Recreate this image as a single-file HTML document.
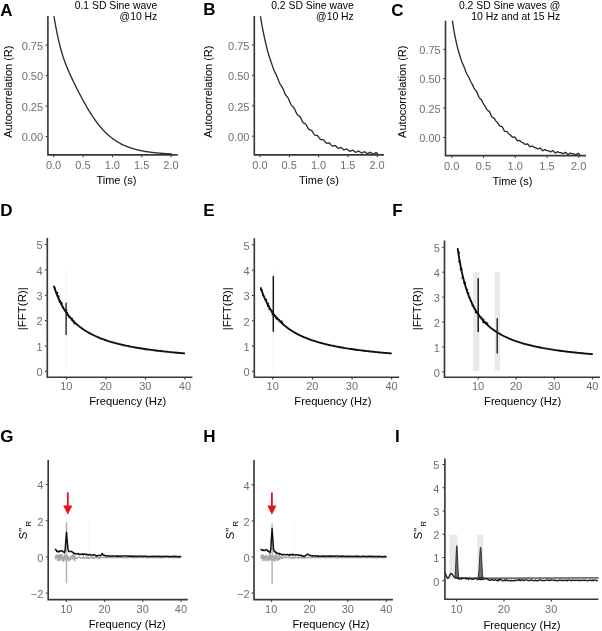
<!DOCTYPE html>
<html><head><meta charset="utf-8"><style>
html,body{margin:0;padding:0;background:#fff;width:602px;height:631px;overflow:hidden}
svg{display:block;font-family:"Liberation Sans", sans-serif;will-change:transform}
</style></head><body>
<svg width="602" height="631" viewBox="0 0 602 631">
<rect width="602" height="631" fill="#fff"/>
<text x="0.3" y="15.8" font-size="17" fill="#000" text-anchor="start" font-weight="bold">A</text>
<text x="203.3" y="15.4" font-size="17" fill="#000" text-anchor="start" font-weight="bold">B</text>
<text x="391.3" y="15.8" font-size="17" fill="#000" text-anchor="start" font-weight="bold">C</text>
<text x="0.3" y="215.8" font-size="17" fill="#000" text-anchor="start" font-weight="bold">D</text>
<text x="203.3" y="216" font-size="17" fill="#000" text-anchor="start" font-weight="bold">E</text>
<text x="392.3" y="215.7" font-size="17" fill="#000" text-anchor="start" font-weight="bold">F</text>
<text x="0.3" y="442.4" font-size="17" fill="#000" text-anchor="start" font-weight="bold">G</text>
<text x="203.3" y="442" font-size="17" fill="#000" text-anchor="start" font-weight="bold">H</text>
<text x="395.1" y="441.9" font-size="17" fill="#000" text-anchor="start" font-weight="bold">I</text>
<text x="157.3" y="8.7" font-size="10.4" fill="#000" text-anchor="end" font-weight="normal">0.1 SD Sine wave</text>
<text x="157.3" y="20.2" font-size="10.4" fill="#000" text-anchor="end" font-weight="normal">@10 Hz</text>
<text x="353.8" y="8.7" font-size="10.4" fill="#000" text-anchor="end" font-weight="normal">0.2 SD Sine wave</text>
<text x="353.8" y="20.2" font-size="10.4" fill="#000" text-anchor="end" font-weight="normal">@10 Hz</text>
<text x="560.2" y="8.7" font-size="10.4" fill="#000" text-anchor="end" font-weight="normal">0.2 SD Sine waves @</text>
<text x="560.2" y="20.2" font-size="10.4" fill="#000" text-anchor="end" font-weight="normal">10 Hz and at 15 Hz</text>
<path d="M47.9 16 V154.9 H177.7" fill="none" stroke="#383838" stroke-width="1.65"/>
<rect x="45.6" y="44.6" width="1.5" height="1" fill="#1a1a1a"/>
<text x="43.1" y="49.9" font-size="11" fill="#6f6f6f" text-anchor="end" font-weight="normal">0.75</text>
<rect x="45.6" y="75.1" width="1.5" height="1" fill="#1a1a1a"/>
<text x="43.1" y="80.4" font-size="11" fill="#6f6f6f" text-anchor="end" font-weight="normal">0.50</text>
<rect x="45.6" y="105.6" width="1.5" height="1" fill="#1a1a1a"/>
<text x="43.1" y="110.9" font-size="11" fill="#6f6f6f" text-anchor="end" font-weight="normal">0.25</text>
<rect x="45.6" y="136.1" width="1.5" height="1" fill="#1a1a1a"/>
<text x="43.1" y="141.4" font-size="11" fill="#6f6f6f" text-anchor="end" font-weight="normal">0.00</text>
<rect x="53.2" y="155.7" width="1" height="1.5" fill="#1a1a1a"/>
<text x="53.6" y="169.1" font-size="11" fill="#6f6f6f" text-anchor="middle" font-weight="normal">0.0</text>
<rect x="82.55" y="155.7" width="1" height="1.5" fill="#1a1a1a"/>
<text x="82.95" y="169.1" font-size="11" fill="#6f6f6f" text-anchor="middle" font-weight="normal">0.5</text>
<rect x="111.9" y="155.7" width="1" height="1.5" fill="#1a1a1a"/>
<text x="112.3" y="169.1" font-size="11" fill="#6f6f6f" text-anchor="middle" font-weight="normal">1.0</text>
<rect x="141.25" y="155.7" width="1" height="1.5" fill="#1a1a1a"/>
<text x="141.65" y="169.1" font-size="11" fill="#6f6f6f" text-anchor="middle" font-weight="normal">1.5</text>
<rect x="170.6" y="155.7" width="1" height="1.5" fill="#1a1a1a"/>
<text x="171" y="169.1" font-size="11" fill="#6f6f6f" text-anchor="middle" font-weight="normal">2.0</text>
<text x="116.4" y="184.2" font-size="11" fill="#000" text-anchor="middle" font-weight="normal">Time (s)</text>
<text x="12.2" y="91.7" font-size="11" fill="#000" text-anchor="middle" font-weight="normal" transform="rotate(-90 12.2 91.7)">Autocorrelation (R)</text>
<path d="M254.3 16 V154.9 H383.9" fill="none" stroke="#383838" stroke-width="1.65"/>
<rect x="252" y="44.4" width="1.5" height="1" fill="#1a1a1a"/>
<text x="249.5" y="49.7" font-size="11" fill="#6f6f6f" text-anchor="end" font-weight="normal">0.75</text>
<rect x="252" y="74.83" width="1.5" height="1" fill="#1a1a1a"/>
<text x="249.5" y="80.13" font-size="11" fill="#6f6f6f" text-anchor="end" font-weight="normal">0.50</text>
<rect x="252" y="105.27" width="1.5" height="1" fill="#1a1a1a"/>
<text x="249.5" y="110.57" font-size="11" fill="#6f6f6f" text-anchor="end" font-weight="normal">0.25</text>
<rect x="252" y="135.7" width="1.5" height="1" fill="#1a1a1a"/>
<text x="249.5" y="141" font-size="11" fill="#6f6f6f" text-anchor="end" font-weight="normal">0.00</text>
<rect x="259.6" y="155.7" width="1" height="1.5" fill="#1a1a1a"/>
<text x="260" y="169.1" font-size="11" fill="#6f6f6f" text-anchor="middle" font-weight="normal">0.0</text>
<rect x="288.88" y="155.7" width="1" height="1.5" fill="#1a1a1a"/>
<text x="289.27" y="169.1" font-size="11" fill="#6f6f6f" text-anchor="middle" font-weight="normal">0.5</text>
<rect x="318.15" y="155.7" width="1" height="1.5" fill="#1a1a1a"/>
<text x="318.55" y="169.1" font-size="11" fill="#6f6f6f" text-anchor="middle" font-weight="normal">1.0</text>
<rect x="347.43" y="155.7" width="1" height="1.5" fill="#1a1a1a"/>
<text x="347.82" y="169.1" font-size="11" fill="#6f6f6f" text-anchor="middle" font-weight="normal">1.5</text>
<rect x="376.7" y="155.7" width="1" height="1.5" fill="#1a1a1a"/>
<text x="377.1" y="169.1" font-size="11" fill="#6f6f6f" text-anchor="middle" font-weight="normal">2.0</text>
<text x="319" y="184.2" font-size="11" fill="#000" text-anchor="middle" font-weight="normal">Time (s)</text>
<text x="212.2" y="91.7" font-size="11" fill="#000" text-anchor="middle" font-weight="normal" transform="rotate(-90 212.2 91.7)">Autocorrelation (R)</text>
<path d="M445.5 20.8 V155.6 H586" fill="none" stroke="#383838" stroke-width="1.65"/>
<rect x="443.2" y="48.8" width="1.5" height="1" fill="#1a1a1a"/>
<text x="440.7" y="54.1" font-size="11" fill="#6f6f6f" text-anchor="end" font-weight="normal">0.75</text>
<rect x="443.2" y="78.17" width="1.5" height="1" fill="#1a1a1a"/>
<text x="440.7" y="83.47" font-size="11" fill="#6f6f6f" text-anchor="end" font-weight="normal">0.50</text>
<rect x="443.2" y="107.53" width="1.5" height="1" fill="#1a1a1a"/>
<text x="440.7" y="112.83" font-size="11" fill="#6f6f6f" text-anchor="end" font-weight="normal">0.25</text>
<rect x="443.2" y="136.9" width="1.5" height="1" fill="#1a1a1a"/>
<text x="440.7" y="142.2" font-size="11" fill="#6f6f6f" text-anchor="end" font-weight="normal">0.00</text>
<rect x="451.3" y="156.4" width="1" height="1.5" fill="#1a1a1a"/>
<text x="451.7" y="169.8" font-size="11" fill="#6f6f6f" text-anchor="middle" font-weight="normal">0.0</text>
<rect x="483.05" y="156.4" width="1" height="1.5" fill="#1a1a1a"/>
<text x="483.45" y="169.8" font-size="11" fill="#6f6f6f" text-anchor="middle" font-weight="normal">0.5</text>
<rect x="514.8" y="156.4" width="1" height="1.5" fill="#1a1a1a"/>
<text x="515.2" y="169.8" font-size="11" fill="#6f6f6f" text-anchor="middle" font-weight="normal">1.0</text>
<rect x="546.55" y="156.4" width="1" height="1.5" fill="#1a1a1a"/>
<text x="546.95" y="169.8" font-size="11" fill="#6f6f6f" text-anchor="middle" font-weight="normal">1.5</text>
<rect x="578.3" y="156.4" width="1" height="1.5" fill="#1a1a1a"/>
<text x="578.7" y="169.8" font-size="11" fill="#6f6f6f" text-anchor="middle" font-weight="normal">2.0</text>
<text x="512.5" y="184.9" font-size="11" fill="#000" text-anchor="middle" font-weight="normal">Time (s)</text>
<text x="406.3" y="91.7" font-size="11" fill="#000" text-anchor="middle" font-weight="normal" transform="rotate(-90 406.3 91.7)">Autocorrelation (R)</text>
<path d="M54 16.68 L54.5 19.59 L55 22.43 L55.5 25.2 L56 27.88 L56.5 30.47 L57 32.98 L57.5 35.38 L58 37.7 L58.5 39.93 L59 42.06 L59.5 44.12 L60 46.09 L60.5 47.98 L61 49.8 L61.5 51.54 L62 53.23 L62.5 54.85 L63 56.41 L63.5 57.92 L64 59.38 L64.5 60.8 L65 62.17 L65.5 63.51 L66 64.81 L66.5 66.08 L67 67.32 L67.5 68.53 L68 69.72 L68.5 70.89 L69 72.03 L69.5 73.16 L70 74.28 L70.5 75.38 L71 76.47 L71.5 77.54 L72 78.61 L72.5 79.66 L73 80.71 L73.5 81.74 L74 82.77 L74.5 83.8 L75 84.81 L75.5 85.82 L76 86.83 L76.5 87.83 L77 88.82 L77.5 89.81 L78 90.79 L78.5 91.76 L79 92.73 L79.5 93.7 L80 94.66 L80.5 95.61 L81 96.56 L81.5 97.5 L82 98.43 L82.5 99.36 L83 100.28 L83.5 101.2 L84 102.1 L84.5 103 L85 103.9 L85.5 104.78 L86 105.66 L86.5 106.53 L87 107.39 L87.5 108.24 L88 109.08 L88.5 109.91 L89 110.74 L89.5 111.55 L90 112.36 L90.5 113.16 L91 113.95 L91.5 114.72 L92 115.49 L92.5 116.25 L93 117 L93.5 117.74 L94 118.46 L94.5 119.18 L95 119.89 L95.5 120.59 L96 121.27 L96.5 121.95 L97 122.62 L97.5 123.28 L98 123.92 L98.5 124.56 L99 125.18 L99.5 125.8 L100 126.41 L100.5 127 L101 127.59 L101.5 128.16 L102 128.73 L102.5 129.28 L103 129.83 L103.5 130.37 L104 130.89 L104.5 131.41 L105 131.92 L105.5 132.42 L106 132.91 L106.5 133.39 L107 133.86 L107.5 134.32 L108 134.77 L108.5 135.22 L109 135.65 L109.5 136.08 L110 136.5 L110.5 136.91 L111 137.31 L111.5 137.7 L112 138.09 L112.5 138.47 L113 138.84 L113.5 139.2 L114 139.56 L114.5 139.91 L115 140.25 L115.5 140.58 L116 140.91 L116.5 141.23 L117 141.54 L117.5 141.85 L118 142.15 L118.5 142.44 L119 142.73 L119.5 143.01 L120 143.28 L120.5 143.55 L121 143.82 L121.5 144.07 L122 144.32 L122.5 144.57 L123 144.81 L123.5 145.05 L124 145.28 L124.5 145.5 L125 145.72 L125.5 145.94 L126 146.15 L126.5 146.35 L127 146.55 L127.5 146.75 L128 146.94 L128.5 147.13 L129 147.31 L129.5 147.49 L130 147.67 L130.5 147.84 L131 148 L131.5 148.17 L132 148.33 L132.5 148.48 L133 148.63 L133.5 148.78 L134 148.93 L134.5 149.07 L135 149.21 L135.5 149.34 L136 149.47 L136.5 149.6 L137 149.73 L137.5 149.85 L138 149.97 L138.5 150.09 L139 150.2 L139.5 150.32 L140 150.43 L140.5 150.53 L141 150.64 L141.5 150.74 L142 150.84 L142.5 150.93 L143 151.03 L143.5 151.12 L144 151.21 L144.5 151.3 L145 151.38 L145.5 151.47 L146 151.55 L146.5 151.63 L147 151.71 L147.5 151.78 L148 151.86 L148.5 151.93 L149 152 L149.5 152.07 L150 152.14 L150.5 152.2 L151 152.27 L151.5 152.33 L152 152.39 L152.5 152.45 L153 152.51 L153.5 152.57 L154 152.62 L154.5 152.68 L155 152.73 L155.5 152.78 L156 152.83 L156.5 152.88 L157 152.93 L157.5 152.97 L158 153.02 L158.5 153.06 L159 153.11 L159.5 153.15 L160 153.19 L160.5 153.23 L161 153.27 L161.5 153.31 L162 153.35 L162.5 153.38 L163 153.42 L163.5 153.45 L164 153.49 L164.5 153.52 L165 153.55 L165.5 153.58 L166 153.62 L166.5 153.65 L167 153.67 L167.5 153.7 L168 153.73 L168.5 153.76 L169 153.78 L169.5 153.81 L170 153.84 L170.5 153.86 L171 153.88 L171.5 153.91" fill="none" stroke="#2b2b2b" stroke-width="1.35" stroke-linejoin="round" stroke-linecap="round"/>
<path d="M260.5 16.68 L261 19.65 L261.5 22.56 L262 25.38 L262.5 28.1 L263 30.72 L263.5 33.22 L264 35.63 L264.5 37.94 L265 40.2 L265.5 42.4 L266 44.55 L266.5 46.65 L267 48.68 L267.5 50.62 L268 52.45 L268.5 54.16 L269 55.76 L269.5 57.27 L270 58.73 L270.5 60.17 L271 61.64 L271.5 63.13 L272 64.64 L272.5 66.15 L273 67.61 L273.5 68.98 L274 70.23 L274.5 71.36 L275 72.39 L275.5 73.37 L276 74.36 L276.5 75.41 L277 76.55 L277.5 77.78 L278 79.07 L278.5 80.37 L279 81.61 L279.5 82.74 L280 83.72 L280.5 84.57 L281 85.32 L281.5 86.05 L282 86.83 L282.5 87.74 L283 88.79 L283.5 89.97 L284 91.23 L284.5 92.47 L285 93.62 L285.5 94.61 L286 95.42 L286.5 96.07 L287 96.64 L287.5 97.21 L288 97.89 L288.5 98.75 L289 99.79 L289.5 100.97 L290 102.23 L290.5 103.44 L291 104.49 L291.5 105.32 L292 105.95 L292.5 106.43 L293 106.85 L293.5 107.33 L294 107.96 L294.5 108.79 L295 109.81 L295.5 110.95 L296 112.12 L296.5 113.19 L297 114.09 L297.5 114.76 L298 115.24 L298.5 115.59 L299 115.92 L299.5 116.33 L300 116.92 L300.5 117.7 L301 118.66 L301.5 119.72 L302 120.76 L302.5 121.68 L303 122.41 L303.5 122.92 L304 123.24 L304.5 123.47 L305 123.7 L305.5 124.05 L306 124.59 L306.5 125.32 L307 126.21 L307.5 127.17 L308 128.08 L308.5 128.85 L309 129.4 L309.5 129.75 L310 129.93 L310.5 130.04 L311 130.19 L311.5 130.49 L312 130.98 L312.5 131.66 L313 132.48 L313.5 133.33 L314 134.11 L314.5 134.72 L315 135.12 L315.5 135.31 L316 135.36 L316.5 135.37 L317 135.47 L317.5 135.72 L318 136.18 L318.5 136.82 L319 137.57 L319.5 138.32 L320 138.97 L320.5 139.43 L321 139.68 L321.5 139.73 L322 139.68 L322.5 139.62 L323 139.67 L323.5 139.91 L324 140.34 L324.5 140.94 L325 141.63 L325.5 142.29 L326 142.82 L326.5 143.14 L327 143.25 L327.5 143.2 L328 143.06 L328.5 142.96 L329 142.99 L329.5 143.21 L330 143.63 L330.5 144.21 L331 144.83 L331.5 145.4 L332 145.82 L332.5 146.02 L333 146.02 L333.5 145.87 L334 145.67 L334.5 145.54 L335 145.57 L335.5 145.8 L336 146.22 L336.5 146.77 L337 147.34 L337.5 147.82 L338 148.13 L338.5 148.22 L339 148.12 L339.5 147.9 L340 147.67 L340.5 147.53 L341 147.57 L341.5 147.82 L342 148.24 L342.5 148.77 L343 149.28 L343.5 149.68 L344 149.89 L344.5 149.88 L345 149.7 L345.5 149.43 L346 149.18 L346.5 149.05 L347 149.12 L347.5 149.39 L348 149.82 L348.5 150.33 L349 150.79 L349.5 151.1 L350 151.22 L350.5 151.13 L351 150.88 L351.5 150.58 L352 150.32 L352.5 150.22 L353 150.32 L353.5 150.62 L354 151.06 L354.5 151.54 L355 151.94 L355.5 152.18 L356 152.21 L356.5 152.04 L357 151.74 L357.5 151.42 L358 151.18 L358.5 151.12 L359 151.26 L359.5 151.59 L360 152.03 L360.5 152.47 L361 152.82 L361.5 152.98 L362 152.93 L362.5 152.7 L363 152.37 L363.5 152.04 L364 151.83 L364.5 151.81 L365 151.99 L365.5 152.35 L366 152.79 L366.5 153.2 L367 153.49 L367.5 153.58 L368 153.46 L368.5 153.17 L369 152.82 L369.5 152.5 L370 152.32 L370.5 152.35 L371 152.58 L371.5 152.96 L372 153.39 L372.5 153.77 L373 153.99 L373.5 154 L374 153.82 L374.5 153.49 L375 153.13 L375.5 152.83 L376 152.7 L376.5 152.78 L377 153.05 L377.5 153.45" fill="none" stroke="#2b2b2b" stroke-width="1.35" stroke-linejoin="round" stroke-linecap="round"/>
<path d="M452.5 21.16 L453 24.58 L453.5 27.8 L454 30.82 L454.5 33.63 L455 36.26 L455.5 38.72 L456 41.05 L456.5 43.28 L457 45.42 L457.5 47.47 L458 49.41 L458.5 51.23 L459 52.96 L459.5 54.62 L460 56.24 L460.5 57.83 L461 59.37 L461.5 60.84 L462 62.18 L462.5 63.4 L463 64.52 L463.5 65.61 L464 66.77 L464.5 68.03 L465 69.39 L465.5 70.78 L466 72.11 L466.5 73.28 L467 74.27 L467.5 75.12 L468 75.92 L468.5 76.77 L469 77.73 L469.5 78.8 L470 79.92 L470.5 81.01 L471 82.02 L471.5 82.95 L472 83.87 L472.5 84.84 L473 85.89 L473.5 86.98 L474 88.03 L474.5 88.93 L475 89.63 L475.5 90.17 L476 90.69 L476.5 91.35 L477 92.27 L477.5 93.46 L478 94.81 L478.5 96.14 L479 97.25 L479.5 98.04 L480 98.55 L480.5 98.93 L481 99.37 L481.5 100.01 L482 100.87 L482.5 101.88 L483 102.9 L483.5 103.81 L484 104.59 L484.5 105.31 L485 106.07 L485.5 106.96 L486 107.93 L486.5 108.9 L487 109.7 L487.5 110.25 L488 110.56 L488.5 110.79 L489 111.13 L489.5 111.76 L490 112.73 L490.5 113.95 L491 115.21 L491.5 116.28 L492 117.01 L492.5 117.4 L493 117.57 L493.5 117.75 L494 118.1 L494.5 118.69 L495 119.48 L495.5 120.32 L496 121.08 L496.5 121.71 L497 122.25 L497.5 122.78 L498 123.42 L498.5 124.17 L499 124.95 L499.5 125.63 L500 126.09 L500.5 126.29 L501 126.32 L501.5 126.39 L502 126.69 L502.5 127.33 L503 128.27 L503.5 129.35 L504 130.32 L504.5 130.99 L505 131.31 L505.5 131.35 L506 131.3 L506.5 131.37 L507 131.67 L507.5 132.2 L508 132.85 L508.5 133.46 L509 133.96 L509.5 134.33 L510 134.66 L510.5 135.07 L511 135.59 L511.5 136.2 L512 136.76 L512.5 137.13 L513 137.25 L513.5 137.15 L514 137.01 L514.5 137.02 L515 137.35 L515.5 138.02 L516 138.9 L516.5 139.78 L517 140.42 L517.5 140.72 L518 140.69 L518.5 140.5 L519 140.35 L519.5 140.4 L520 140.69 L520.5 141.16 L521 141.65 L521.5 142.06 L522 142.33 L522.5 142.53 L523 142.75 L523.5 143.09 L524 143.54 L524.5 144 L525 144.33 L525.5 144.43 L526 144.27 L526.5 144 L527 143.8 L527.5 143.87 L528 144.29 L528.5 144.99 L529 145.79 L529.5 146.43 L530 146.76 L530.5 146.74 L531 146.48 L531.5 146.18 L532 146.03 L532.5 146.13 L533 146.44 L533.5 146.84 L534 147.19 L534.5 147.42 L535 147.54 L535.5 147.65 L536 147.84 L536.5 148.17 L537 148.55 L537.5 148.86 L538 148.97 L538.5 148.83 L539 148.5 L539.5 148.17 L540 148.03 L540.5 148.23 L541 148.76 L541.5 149.47 L542 150.13 L542.5 150.52 L543 150.56 L543.5 150.31 L544 149.93 L544.5 149.64 L545 149.57 L545.5 149.74 L546 150.06 L546.5 150.38 L547 150.6 L547.5 150.69 L548 150.73 L548.5 150.83 L549 151.05 L549.5 151.36 L550 151.67 L550.5 151.82 L551 151.72 L551.5 151.4 L552 150.99 L552.5 150.7 L553 150.71 L553.5 151.07 L554 151.69 L554.5 152.35 L555 152.83 L555.5 152.96 L556 152.77 L556.5 152.37 L557 151.98 L557.5 151.77 L558 151.81 L558.5 152.05 L559 152.35 L559.5 152.58 L560 152.68 L560.5 152.69 L561 152.72 L561.5 152.85 L562 153.1 L562.5 153.39 L563 153.59 L563.5 153.56 L564 153.28 L564.5 152.85 L565 152.46 L565.5 152.31 L566 152.51 L566.5 153.01 L567 153.66 L567.5 154.2 L568 154.46 L568.5 154.36 L569 153.99 L569.5 153.55 L570 153.22 L570.5 153.14 L571 153.29 L571.5 153.56 L572 153.8 L572.5 153.93 L573 153.95 L573.5 153.93 L574 153.99 L574.5 154.18 L575 154.45 L575.5 154.68 L576 154.74 L576.5 154.53 L577 154.13 L577.5 153.67 L578 153.39 L578.5 153.42 L579 153.8 L579.5 154.4" fill="none" stroke="#2b2b2b" stroke-width="1.35" stroke-linejoin="round" stroke-linecap="round"/>
<path d="M47.3 237.9 V377.2 H192.4" fill="none" stroke="#383838" stroke-width="1.65"/>
<rect x="45" y="370.9" width="1.5" height="1" fill="#1a1a1a"/>
<text x="42.7" y="376.2" font-size="11" fill="#6f6f6f" text-anchor="end" font-weight="normal">0</text>
<rect x="45" y="345.52" width="1.5" height="1" fill="#1a1a1a"/>
<text x="42.7" y="350.82" font-size="11" fill="#6f6f6f" text-anchor="end" font-weight="normal">1</text>
<rect x="45" y="320.14" width="1.5" height="1" fill="#1a1a1a"/>
<text x="42.7" y="325.44" font-size="11" fill="#6f6f6f" text-anchor="end" font-weight="normal">2</text>
<rect x="45" y="294.76" width="1.5" height="1" fill="#1a1a1a"/>
<text x="42.7" y="300.06" font-size="11" fill="#6f6f6f" text-anchor="end" font-weight="normal">3</text>
<rect x="45" y="269.38" width="1.5" height="1" fill="#1a1a1a"/>
<text x="42.7" y="274.68" font-size="11" fill="#6f6f6f" text-anchor="end" font-weight="normal">4</text>
<rect x="45" y="244" width="1.5" height="1" fill="#1a1a1a"/>
<text x="42.7" y="249.3" font-size="11" fill="#6f6f6f" text-anchor="end" font-weight="normal">5</text>
<rect x="65.9" y="378" width="1" height="1.5" fill="#1a1a1a"/>
<text x="66.3" y="389.8" font-size="11" fill="#6f6f6f" text-anchor="middle" font-weight="normal">10</text>
<rect x="105.43" y="378" width="1" height="1.5" fill="#1a1a1a"/>
<text x="105.83" y="389.8" font-size="11" fill="#6f6f6f" text-anchor="middle" font-weight="normal">20</text>
<rect x="144.97" y="378" width="1" height="1.5" fill="#1a1a1a"/>
<text x="145.37" y="389.8" font-size="11" fill="#6f6f6f" text-anchor="middle" font-weight="normal">30</text>
<rect x="184.5" y="378" width="1" height="1.5" fill="#1a1a1a"/>
<text x="184.9" y="389.8" font-size="11" fill="#6f6f6f" text-anchor="middle" font-weight="normal">40</text>
<text x="127.7" y="405.1" font-size="11.2" fill="#000" text-anchor="middle" font-weight="normal">Frequency (Hz)</text>
<text x="26.4" y="308.7" font-size="11.5" fill="#000" text-anchor="middle" font-weight="normal" transform="rotate(-90 26.4 308.7)">|FFT(R)|</text>
<path d="M254.3 238.2 V377.2 H399.2" fill="none" stroke="#383838" stroke-width="1.65"/>
<rect x="252" y="370.9" width="1.5" height="1" fill="#1a1a1a"/>
<text x="249.7" y="376.2" font-size="11" fill="#6f6f6f" text-anchor="end" font-weight="normal">0</text>
<rect x="252" y="345.6" width="1.5" height="1" fill="#1a1a1a"/>
<text x="249.7" y="350.9" font-size="11" fill="#6f6f6f" text-anchor="end" font-weight="normal">1</text>
<rect x="252" y="320.3" width="1.5" height="1" fill="#1a1a1a"/>
<text x="249.7" y="325.6" font-size="11" fill="#6f6f6f" text-anchor="end" font-weight="normal">2</text>
<rect x="252" y="295" width="1.5" height="1" fill="#1a1a1a"/>
<text x="249.7" y="300.3" font-size="11" fill="#6f6f6f" text-anchor="end" font-weight="normal">3</text>
<rect x="252" y="269.7" width="1.5" height="1" fill="#1a1a1a"/>
<text x="249.7" y="275" font-size="11" fill="#6f6f6f" text-anchor="end" font-weight="normal">4</text>
<rect x="252" y="244.4" width="1.5" height="1" fill="#1a1a1a"/>
<text x="249.7" y="249.7" font-size="11" fill="#6f6f6f" text-anchor="end" font-weight="normal">5</text>
<rect x="272.3" y="378" width="1" height="1.5" fill="#1a1a1a"/>
<text x="272.7" y="389.8" font-size="11" fill="#6f6f6f" text-anchor="middle" font-weight="normal">10</text>
<rect x="311.93" y="378" width="1" height="1.5" fill="#1a1a1a"/>
<text x="312.33" y="389.8" font-size="11" fill="#6f6f6f" text-anchor="middle" font-weight="normal">20</text>
<rect x="351.57" y="378" width="1" height="1.5" fill="#1a1a1a"/>
<text x="351.97" y="389.8" font-size="11" fill="#6f6f6f" text-anchor="middle" font-weight="normal">30</text>
<rect x="391.2" y="378" width="1" height="1.5" fill="#1a1a1a"/>
<text x="391.6" y="389.8" font-size="11" fill="#6f6f6f" text-anchor="middle" font-weight="normal">40</text>
<text x="332.9" y="405.1" font-size="11.2" fill="#000" text-anchor="middle" font-weight="normal">Frequency (Hz)</text>
<text x="231.4" y="308.7" font-size="11.5" fill="#000" text-anchor="middle" font-weight="normal" transform="rotate(-90 231.4 308.7)">|FFT(R)|</text>
<path d="M444.5 240.4 V377.2 H600" fill="none" stroke="#383838" stroke-width="1.65"/>
<rect x="442.2" y="371.3" width="1.5" height="1" fill="#1a1a1a"/>
<text x="439.9" y="376.6" font-size="11" fill="#6f6f6f" text-anchor="end" font-weight="normal">0</text>
<rect x="442.2" y="346.4" width="1.5" height="1" fill="#1a1a1a"/>
<text x="439.9" y="351.7" font-size="11" fill="#6f6f6f" text-anchor="end" font-weight="normal">1</text>
<rect x="442.2" y="321.5" width="1.5" height="1" fill="#1a1a1a"/>
<text x="439.9" y="326.8" font-size="11" fill="#6f6f6f" text-anchor="end" font-weight="normal">2</text>
<rect x="442.2" y="296.6" width="1.5" height="1" fill="#1a1a1a"/>
<text x="439.9" y="301.9" font-size="11" fill="#6f6f6f" text-anchor="end" font-weight="normal">3</text>
<rect x="442.2" y="271.7" width="1.5" height="1" fill="#1a1a1a"/>
<text x="439.9" y="277" font-size="11" fill="#6f6f6f" text-anchor="end" font-weight="normal">4</text>
<rect x="442.2" y="246.8" width="1.5" height="1" fill="#1a1a1a"/>
<text x="439.9" y="252.1" font-size="11" fill="#6f6f6f" text-anchor="end" font-weight="normal">5</text>
<rect x="477.6" y="378" width="1" height="1.5" fill="#1a1a1a"/>
<text x="478" y="389.8" font-size="11" fill="#6f6f6f" text-anchor="middle" font-weight="normal">10</text>
<rect x="515.7" y="378" width="1" height="1.5" fill="#1a1a1a"/>
<text x="516.1" y="389.8" font-size="11" fill="#6f6f6f" text-anchor="middle" font-weight="normal">20</text>
<rect x="553.8" y="378" width="1" height="1.5" fill="#1a1a1a"/>
<text x="554.2" y="389.8" font-size="11" fill="#6f6f6f" text-anchor="middle" font-weight="normal">30</text>
<rect x="591.9" y="378" width="1" height="1.5" fill="#1a1a1a"/>
<text x="592.3" y="389.8" font-size="11" fill="#6f6f6f" text-anchor="middle" font-weight="normal">40</text>
<text x="522.6" y="405.1" font-size="11.2" fill="#000" text-anchor="middle" font-weight="normal">Frequency (Hz)</text>
<text x="421.3" y="308.7" font-size="11.5" fill="#000" text-anchor="middle" font-weight="normal" transform="rotate(-90 421.3 308.7)">|FFT(R)|</text>
<rect x="65.9" y="270" width="1" height="101" fill="#f4f4f4"/>
<rect x="272.8" y="270.5" width="1" height="101" fill="#f1f2f5"/>
<rect x="473.2" y="272.2" width="6.1" height="98.7" fill="#e9e9ea"/>
<rect x="494.8" y="272.2" width="5.2" height="98.7" fill="#e9e9ea"/>
<path d="M53.99 286.43 L54.46 287.88 L54.94 289.28 L55.41 290.64 L55.89 291.94 L56.36 293.21 L56.83 294.43 L57.31 295.61 L57.78 296.76 L58.26 297.87 L58.73 298.94 L59.21 299.98 L59.68 300.99 L60.15 301.98 L60.63 302.93 L61.1 303.85 L61.58 304.75 L62.05 305.63 L62.53 306.48 L63 307.31 L63.47 308.11 L63.95 308.89 L64.42 309.66 L64.9 310.4 L65.37 311.13 L65.85 311.83 L66.32 312.52 L66.8 313.19 L67.27 313.85 L67.74 314.49 L68.22 315.11 L68.69 315.72 L69.17 316.32 L69.64 316.9 L70.12 317.47 L70.59 318.02 L71.06 318.57 L71.54 319.1 L72.01 319.62 L72.49 320.13 L72.96 320.63 L73.44 321.11 L73.91 321.59 L74.39 322.06 L74.86 322.52 L75.33 322.97 L75.81 323.41 L76.28 323.84 L76.76 324.26 L77.23 324.67 L77.71 325.08 L78.18 325.48 L78.65 325.87 L79.13 326.25 L79.6 326.63 L80.08 327 L80.55 327.36 L81.03 327.72 L81.5 328.07 L81.97 328.41 L82.45 328.75 L82.92 329.08 L83.4 329.41 L83.87 329.73 L84.35 330.04 L84.82 330.35 L85.3 330.66 L85.77 330.96 L86.24 331.25 L87.83 332.2 L89.41 333.09 L90.99 333.94 L92.57 334.75 L94.15 335.52 L95.73 336.26 L97.31 336.96 L98.89 337.62 L100.47 338.26 L102.06 338.87 L103.64 339.45 L105.22 340.01 L106.8 340.55 L108.38 341.07 L109.96 341.56 L111.54 342.04 L113.12 342.49 L114.71 342.93 L116.29 343.36 L117.87 343.77 L119.45 344.16 L121.03 344.54 L122.61 344.91 L124.19 345.27 L125.77 345.61 L127.36 345.94 L128.94 346.27 L130.52 346.58 L132.1 346.88 L133.68 347.17 L135.26 347.46 L136.84 347.73 L138.42 348 L140 348.26 L141.59 348.51 L143.17 348.76 L144.75 349 L146.33 349.23 L147.91 349.46 L149.49 349.67 L151.07 349.89 L152.65 350.1 L154.24 350.3 L155.82 350.5 L157.4 350.69 L158.98 350.88 L160.56 351.06 L162.14 351.24 L163.72 351.42 L165.3 351.59 L166.89 351.75 L168.47 351.92 L170.05 352.08 L171.63 352.23 L173.21 352.38 L174.79 352.53 L176.37 352.68 L177.95 352.82 L179.53 352.96 L181.12 353.09 L182.7 353.23 L184.28 353.36" fill="none" stroke="#111" stroke-width="1.9" stroke-linejoin="round" stroke-linecap="round"/>
<circle cx="54.88" cy="288.14" r="0.98" fill="#111"/><circle cx="57.07" cy="292.9" r="1.17" fill="#111"/><circle cx="58.5" cy="296.42" r="1.15" fill="#111"/><circle cx="58.91" cy="299.04" r="0.93" fill="#111"/><circle cx="60.02" cy="301.38" r="1.31" fill="#111"/><circle cx="61.48" cy="303.49" r="1.21" fill="#111"/><circle cx="63.02" cy="307.61" r="1.1" fill="#111"/><circle cx="65.98" cy="310.57" r="1.33" fill="#111"/><circle cx="67.15" cy="312.59" r="0.96" fill="#111"/><circle cx="67.5" cy="315.11" r="0.99" fill="#111"/><circle cx="69.45" cy="317.06" r="1.09" fill="#111"/><circle cx="71.9" cy="318.32" r="0.93" fill="#111"/><circle cx="72.27" cy="320.37" r="1.11" fill="#111"/><circle cx="73.76" cy="321.66" r="1.13" fill="#111"/><circle cx="74.84" cy="323.23" r="1.25" fill="#111"/>
<path d="M66.1 303.1 L66.1 334.5" fill="none" stroke="#222" stroke-width="1.4" stroke-linejoin="round" stroke-linecap="round"/>
<path d="M260.79 288.03 L261.27 289.43 L261.74 290.78 L262.22 292.09 L262.69 293.35 L263.17 294.57 L263.65 295.75 L264.12 296.9 L264.6 298.01 L265.07 299.08 L265.55 300.12 L266.02 301.13 L266.5 302.11 L266.97 303.07 L267.45 303.99 L267.93 304.89 L268.4 305.76 L268.88 306.61 L269.35 307.44 L269.83 308.24 L270.3 309.03 L270.78 309.79 L271.25 310.53 L271.73 311.26 L272.21 311.96 L272.68 312.65 L273.16 313.32 L273.63 313.97 L274.11 314.61 L274.58 315.24 L275.06 315.85 L275.53 316.44 L276.01 317.02 L276.49 317.59 L276.96 318.15 L277.44 318.69 L277.91 319.22 L278.39 319.74 L278.86 320.25 L279.34 320.75 L279.81 321.23 L280.29 321.71 L280.77 322.18 L281.24 322.63 L281.72 323.08 L282.19 323.52 L282.67 323.95 L283.14 324.37 L283.62 324.79 L284.09 325.19 L284.57 325.59 L285.05 325.98 L285.52 326.36 L286 326.74 L286.47 327.11 L286.95 327.47 L287.42 327.83 L287.9 328.18 L288.37 328.52 L288.85 328.86 L289.33 329.19 L289.8 329.51 L290.28 329.83 L290.75 330.15 L291.23 330.46 L291.7 330.76 L292.18 331.06 L292.65 331.35 L294.24 332.3 L295.83 333.19 L297.41 334.04 L299 334.85 L300.58 335.62 L302.17 336.35 L303.75 337.05 L305.34 337.71 L306.92 338.35 L308.51 338.96 L310.09 339.54 L311.68 340.1 L313.26 340.63 L314.85 341.15 L316.43 341.64 L318.02 342.12 L319.6 342.57 L321.19 343.01 L322.77 343.44 L324.36 343.85 L325.94 344.24 L327.53 344.62 L329.11 344.99 L330.7 345.34 L332.28 345.68 L333.87 346.02 L335.46 346.34 L337.04 346.65 L338.63 346.95 L340.21 347.24 L341.8 347.53 L343.38 347.8 L344.97 348.07 L346.55 348.33 L348.14 348.58 L349.72 348.82 L351.31 349.06 L352.89 349.29 L354.48 349.52 L356.06 349.74 L357.65 349.95 L359.23 350.16 L360.82 350.36 L362.4 350.56 L363.99 350.75 L365.57 350.94 L367.16 351.12 L368.74 351.3 L370.33 351.47 L371.91 351.65 L373.5 351.81 L375.09 351.97 L376.67 352.13 L378.26 352.29 L379.84 352.44 L381.43 352.59 L383.01 352.73 L384.6 352.87 L386.18 353.01 L387.77 353.15 L389.35 353.28 L390.94 353.41" fill="none" stroke="#111" stroke-width="1.9" stroke-linejoin="round" stroke-linecap="round"/>
<circle cx="261.26" cy="289.81" r="1.16" fill="#111"/><circle cx="263.03" cy="295.34" r="1.04" fill="#111"/><circle cx="266.21" cy="299.91" r="1.11" fill="#111"/><circle cx="268.03" cy="303.75" r="1.14" fill="#111"/><circle cx="268.23" cy="306.08" r="1.28" fill="#111"/><circle cx="269.58" cy="309.15" r="1.06" fill="#111"/><circle cx="271.85" cy="311.73" r="1.19" fill="#111"/><circle cx="273.02" cy="314.17" r="1.37" fill="#111"/><circle cx="274.84" cy="316.04" r="0.93" fill="#111"/><circle cx="276.7" cy="318.24" r="1.4" fill="#111"/><circle cx="279.17" cy="320.01" r="1.09" fill="#111"/><circle cx="281.29" cy="321.49" r="1.13" fill="#111"/><circle cx="282.34" cy="322.73" r="0.93" fill="#111"/>
<path d="M273.3 276.6 L273.3 331.3" fill="none" stroke="#1a1a1a" stroke-width="1.5" stroke-linejoin="round" stroke-linecap="round"/>
<path d="M457.79 249.01 L458.25 252.14 L458.71 255.11 L459.16 257.94 L459.62 260.63 L460.08 263.19 L460.54 265.63 L460.99 267.97 L461.45 270.2 L461.91 272.34 L462.36 274.38 L462.82 276.34 L463.28 278.22 L463.74 280.03 L464.19 281.76 L464.65 283.43 L465.11 285.04 L465.57 286.58 L466.02 288.07 L466.48 289.51 L466.94 290.9 L467.39 292.24 L467.85 293.53 L468.31 294.78 L468.77 295.99 L469.22 297.16 L469.68 298.29 L470.14 299.39 L470.59 300.45 L471.05 301.48 L471.51 302.48 L471.97 303.45 L472.42 304.39 L472.88 305.31 L473.34 306.2 L473.79 307.06 L474.25 307.9 L474.71 308.72 L475.17 309.51 L475.62 310.29 L476.08 311.04 L476.54 311.77 L477 312.49 L477.45 313.19 L477.91 313.87 L478.37 314.53 L478.82 315.18 L479.28 315.81 L479.74 316.42 L480.2 317.03 L480.65 317.61 L481.11 318.19 L481.57 318.75 L482.02 319.3 L482.48 319.83 L482.94 320.36 L483.4 320.87 L483.85 321.37 L484.31 321.87 L484.77 322.35 L485.22 322.82 L485.68 323.28 L486.14 323.73 L486.6 324.17 L487.05 324.61 L487.51 325.03 L487.97 325.45 L488.43 325.86 L488.88 326.26 L489.34 326.65 L489.8 327.04 L490.25 327.41 L490.71 327.79 L491.17 328.15 L491.63 328.51 L492.08 328.86 L492.54 329.2 L493 329.54 L493.45 329.87 L493.91 330.2 L494.37 330.52 L494.83 330.84 L495.28 331.15 L495.74 331.45 L496.2 331.75 L496.65 332.05 L497.11 332.34 L497.57 332.62 L499.09 333.54 L500.62 334.41 L502.14 335.24 L503.67 336.02 L505.19 336.77 L506.71 337.48 L508.24 338.16 L509.76 338.8 L511.29 339.42 L512.81 340.02 L514.33 340.58 L515.86 341.13 L517.38 341.65 L518.91 342.15 L520.43 342.63 L521.95 343.09 L523.48 343.54 L525 343.97 L526.53 344.38 L528.05 344.78 L529.57 345.16 L531.1 345.53 L532.62 345.89 L534.15 346.24 L535.67 346.57 L537.19 346.9 L538.72 347.21 L540.24 347.52 L541.77 347.81 L543.29 348.1 L544.81 348.37 L546.34 348.64 L547.86 348.9 L549.39 349.16 L550.91 349.4 L552.43 349.64 L553.96 349.87 L555.48 350.1 L557.01 350.32 L558.53 350.53 L560.05 350.74 L561.58 350.95 L563.1 351.14 L564.63 351.34 L566.15 351.52 L567.67 351.71 L569.2 351.89 L570.72 352.06 L572.25 352.23 L573.77 352.4 L575.29 352.56 L576.82 352.72 L578.34 352.88 L579.87 353.03 L581.39 353.18 L582.91 353.32 L584.44 353.46 L585.96 353.6 L587.49 353.74 L589.01 353.87 L590.53 354 L592.06 354.13" fill="none" stroke="#111" stroke-width="1.9" stroke-linejoin="round" stroke-linecap="round"/>
<circle cx="459.02" cy="252.8" r="1.02" fill="#111"/><circle cx="459.1" cy="261.55" r="0.94" fill="#111"/><circle cx="461.14" cy="269.15" r="1.34" fill="#111"/><circle cx="462.48" cy="277.72" r="1.04" fill="#111"/><circle cx="464.79" cy="282.99" r="1.34" fill="#111"/><circle cx="467.19" cy="289.68" r="0.99" fill="#111"/><circle cx="468.27" cy="293.26" r="1.14" fill="#111"/><circle cx="469.84" cy="297.54" r="0.9" fill="#111"/><circle cx="471.09" cy="300.98" r="1.18" fill="#111"/><circle cx="472.6" cy="305.51" r="1.16" fill="#111"/><circle cx="474.29" cy="308.61" r="0.93" fill="#111"/><circle cx="476.11" cy="312.04" r="1.34" fill="#111"/><circle cx="478.58" cy="314.49" r="1.1" fill="#111"/><circle cx="479.28" cy="316.22" r="0.93" fill="#111"/><circle cx="480.94" cy="317.13" r="0.98" fill="#111"/><circle cx="482.5" cy="318.61" r="0.9" fill="#111"/><circle cx="483.54" cy="319.96" r="1.08" fill="#111"/><circle cx="483.44" cy="321.92" r="1.21" fill="#111"/><circle cx="485.42" cy="322.38" r="1.07" fill="#111"/><circle cx="486.95" cy="323.57" r="1.32" fill="#111"/>
<path d="M478.2 278.8 L478.2 331.4" fill="none" stroke="#1a1a1a" stroke-width="1.5" stroke-linejoin="round" stroke-linecap="round"/>
<path d="M497.2 318.7 L497.2 353.1" fill="none" stroke="#222" stroke-width="1.4" stroke-linejoin="round" stroke-linecap="round"/>
<path d="M48.2 459.9 V599.6 H187.8" fill="none" stroke="#383838" stroke-width="1.65"/>
<rect x="45.9" y="484" width="1.5" height="1" fill="#1a1a1a"/>
<text x="43.3" y="489.3" font-size="11" fill="#6f6f6f" text-anchor="end" font-weight="normal">4</text>
<rect x="45.9" y="520.2" width="1.5" height="1" fill="#1a1a1a"/>
<text x="43.3" y="525.5" font-size="11" fill="#6f6f6f" text-anchor="end" font-weight="normal">2</text>
<rect x="45.9" y="556.4" width="1.5" height="1" fill="#1a1a1a"/>
<text x="43.3" y="561.7" font-size="11" fill="#6f6f6f" text-anchor="end" font-weight="normal">0</text>
<rect x="45.9" y="592.6" width="1.5" height="1" fill="#1a1a1a"/>
<text x="43.3" y="597.9" font-size="11" fill="#6f6f6f" text-anchor="end" font-weight="normal">−2</text>
<rect x="65.9" y="600.4" width="1" height="1.5" fill="#1a1a1a"/>
<text x="66.3" y="612.8" font-size="11" fill="#6f6f6f" text-anchor="middle" font-weight="normal">10</text>
<rect x="104.1" y="600.4" width="1" height="1.5" fill="#1a1a1a"/>
<text x="104.5" y="612.8" font-size="11" fill="#6f6f6f" text-anchor="middle" font-weight="normal">20</text>
<rect x="142.3" y="600.4" width="1" height="1.5" fill="#1a1a1a"/>
<text x="142.7" y="612.8" font-size="11" fill="#6f6f6f" text-anchor="middle" font-weight="normal">30</text>
<rect x="180.5" y="600.4" width="1" height="1.5" fill="#1a1a1a"/>
<text x="180.9" y="612.8" font-size="11" fill="#6f6f6f" text-anchor="middle" font-weight="normal">40</text>
<text x="127.3" y="627.8" font-size="11.2" fill="#000" text-anchor="middle" font-weight="normal">Frequency (Hz)</text>
<text transform="translate(27 539.2) rotate(-90)" font-size="11.2" fill="#000">S"<tspan font-size="8" dy="3.5" dx="1">R</tspan></text>
<path d="M254 459.9 V599.6 H393" fill="none" stroke="#383838" stroke-width="1.65"/>
<rect x="251.7" y="484.3" width="1.5" height="1" fill="#1a1a1a"/>
<text x="249.5" y="489.6" font-size="11" fill="#6f6f6f" text-anchor="end" font-weight="normal">4</text>
<rect x="251.7" y="520.37" width="1.5" height="1" fill="#1a1a1a"/>
<text x="249.5" y="525.67" font-size="11" fill="#6f6f6f" text-anchor="end" font-weight="normal">2</text>
<rect x="251.7" y="556.43" width="1.5" height="1" fill="#1a1a1a"/>
<text x="249.5" y="561.73" font-size="11" fill="#6f6f6f" text-anchor="end" font-weight="normal">0</text>
<rect x="251.7" y="592.5" width="1.5" height="1" fill="#1a1a1a"/>
<text x="249.5" y="597.8" font-size="11" fill="#6f6f6f" text-anchor="end" font-weight="normal">−2</text>
<rect x="270.8" y="600.4" width="1" height="1.5" fill="#1a1a1a"/>
<text x="271.2" y="612.8" font-size="11" fill="#6f6f6f" text-anchor="middle" font-weight="normal">10</text>
<rect x="309.13" y="600.4" width="1" height="1.5" fill="#1a1a1a"/>
<text x="309.53" y="612.8" font-size="11" fill="#6f6f6f" text-anchor="middle" font-weight="normal">20</text>
<rect x="347.47" y="600.4" width="1" height="1.5" fill="#1a1a1a"/>
<text x="347.87" y="612.8" font-size="11" fill="#6f6f6f" text-anchor="middle" font-weight="normal">30</text>
<rect x="385.8" y="600.4" width="1" height="1.5" fill="#1a1a1a"/>
<text x="386.2" y="612.8" font-size="11" fill="#6f6f6f" text-anchor="middle" font-weight="normal">40</text>
<text x="331" y="627.8" font-size="11.2" fill="#000" text-anchor="middle" font-weight="normal">Frequency (Hz)</text>
<text transform="translate(234 539.2) rotate(-90)" font-size="11.2" fill="#000">S"<tspan font-size="8" dy="3.5" dx="1">R</tspan></text>
<path d="M444.9 458.5 V599.2 H598.4" fill="none" stroke="#383838" stroke-width="1.65"/>
<rect x="442.6" y="580.2" width="1.5" height="1" fill="#1a1a1a"/>
<text x="439.3" y="585.5" font-size="11" fill="#6f6f6f" text-anchor="end" font-weight="normal">0</text>
<rect x="442.6" y="556.96" width="1.5" height="1" fill="#1a1a1a"/>
<text x="439.3" y="562.26" font-size="11" fill="#6f6f6f" text-anchor="end" font-weight="normal">1</text>
<rect x="442.6" y="533.72" width="1.5" height="1" fill="#1a1a1a"/>
<text x="439.3" y="539.02" font-size="11" fill="#6f6f6f" text-anchor="end" font-weight="normal">2</text>
<rect x="442.6" y="510.48" width="1.5" height="1" fill="#1a1a1a"/>
<text x="439.3" y="515.78" font-size="11" fill="#6f6f6f" text-anchor="end" font-weight="normal">3</text>
<rect x="442.6" y="487.24" width="1.5" height="1" fill="#1a1a1a"/>
<text x="439.3" y="492.54" font-size="11" fill="#6f6f6f" text-anchor="end" font-weight="normal">4</text>
<rect x="442.6" y="464" width="1.5" height="1" fill="#1a1a1a"/>
<text x="439.3" y="469.3" font-size="11" fill="#6f6f6f" text-anchor="end" font-weight="normal">5</text>
<rect x="456.2" y="600" width="1" height="1.5" fill="#1a1a1a"/>
<text x="456.6" y="613.2" font-size="11" fill="#6f6f6f" text-anchor="middle" font-weight="normal">10</text>
<rect x="503.5" y="600" width="1" height="1.5" fill="#1a1a1a"/>
<text x="503.9" y="613.2" font-size="11" fill="#6f6f6f" text-anchor="middle" font-weight="normal">20</text>
<rect x="550.8" y="600" width="1" height="1.5" fill="#1a1a1a"/>
<text x="551.2" y="613.2" font-size="11" fill="#6f6f6f" text-anchor="middle" font-weight="normal">30</text>
<text x="522" y="628.8" font-size="11.2" fill="#000" text-anchor="middle" font-weight="normal">Frequency (Hz)</text>
<text transform="translate(422.4 539.2) rotate(-90)" font-size="11.2" fill="#000">S"<tspan font-size="8" dy="3.5" dx="1">R</tspan></text>
<rect x="88.5" y="521.5" width="1" height="30" fill="#f1f2f6"/>
<path d="M55.3 557.37 L55.8 557.49 L56.3 554.78 L56.8 554.89 L57.3 556.53 L57.8 556 L58.3 559.84 L58.8 555.3 L59.3 554.36 L59.8 560.67 L60.3 557.79 L60.8 555.2 L61.3 557.89 L61.8 554.38 L62.3 557.79 L62.8 560.85 L63.3 560.07 L63.8 558.93 L64.3 555.98 L64.8 556.69 L65.3 555.34 L65.8 559.45 L66.3 557.82 L66.8 559.5 L67.3 556.44 L67.8 555.72 L68.3 559.72 L68.8 560.9 L69.3 560 L69.8 559.68 L70.3 559.76 L70.8 559.23 L71.3 555.74 L71.8 557.72 L72.3 556.62 L72.8 554.4 L73.3 554.39 L73.8 556.1 L74.3 555.96 L74.8 558.91 L75.3 558.42 L75.8 557.51 L76.3 558.39 L76.8 558.48 L77.3 558.42 L77.8 557.36 L78.3 557.1 L78.8 557.11 L79.3 557.05 L79.8 557.07 L80.3 557.82 L80.8 558.32 L81.3 558.21 L81.8 557.56 L82.3 557.88 L82.8 558.14 L83.3 556.85 L83.8 557.89 L84.3 558.34 L84.8 558.11 L85.3 558.05 L85.8 557.56 L86.3 557.02 L86.8 558.12 L87.3 557.3 L87.8 558.14 L88.3 558.45 L88.8 557.41 L89.3 557.42 L89.8 558.4 L90.3 558 L90.8 557.01 L91.3 556.93 L91.8 556.97 L92.3 558.33 L92.8 558.15 L93.3 556.96 L93.8 558.19 L94.3 558.46 L94.8 557.88 L95.3 557.33 L95.8 557.69 L96.3 556.94 L96.8 556.73 L97.3 558.45 L97.8 557.87 L98.3 557.65 L98.8 558.38 L99.3 557.48 L99.8 558.27 L100.3 557.8 L100.8 557.43 L101.3 557.45 L101.8 557.48 L102.3 557.44 L102.8 557.65 L103.3 557.46 L103.8 557.55 L104.3 557.38 L104.8 557.85 L105.3 557.51 L105.8 557.57 L106.3 557.65 L106.8 557.84 L107.3 557.55 L107.8 557.85 L108.3 557.6 L108.8 557.62 L109.3 557.61 L109.8 557.31 L110.3 557.56 L110.8 557.41 L111.3 557.3 L111.8 557.78 L112.3 557.4 L112.8 557.58 L113.3 557.74 L113.8 557.63 L114.3 557.5 L114.8 557.61 L115.3 557.63 L115.8 557.77 L116.3 557.36 L116.8 557.64 L117.3 557.45 L117.8 557.47 L118.3 557.76 L118.8 557.6 L119.3 557.64 L119.8 557.76 L120.3 557.85 L120.8 557.57 L121.3 557.67 L121.8 557.6 L122.3 557.61 L122.8 557.72 L123.3 557.57 L123.8 557.62 L124.3 557.59 L124.8 557.86 L125.3 557.72 L125.8 557.83 L126.3 557.87 L126.8 557.46 L127.3 557.64 L127.8 557.87 L128.3 557.8 L128.8 557.38 L129.3 557.37 L129.8 557.57 L130.3 557.34 L130.8 557.44 L131.3 557.34 L131.8 557.7 L132.3 557.77 L132.8 557.84 L133.3 557.39 L133.8 557.73 L134.3 557.7 L134.8 557.39 L135.3 557.83 L135.8 557.88 L136.3 557.43 L136.8 557.87 L137.3 557.54 L137.8 557.59 L138.3 557.89 L138.8 557.8 L139.3 557.4 L139.8 557.56 L140.3 557.61 L140.8 557.5 L141.3 557.42 L141.8 557.49 L142.3 557.73 L142.8 557.31 L143.3 557.63 L143.8 557.56 L144.3 557.31 L144.8 557.5 L145.3 557.67 L145.8 557.61 L146.3 557.34 L146.8 557.89 L147.3 557.77 L147.8 557.88 L148.3 557.36 L148.8 557.46 L149.3 557.32 L149.8 557.77 L150.3 557.46 L150.8 557.38 L151.3 557.55 L151.8 557.85 L152.3 557.79 L152.8 557.46 L153.3 557.39 L153.8 557.85 L154.3 557.64 L154.8 557.72 L155.3 557.35 L155.8 557.33 L156.3 557.71 L156.8 557.56 L157.3 557.34 L157.8 557.86 L158.3 557.68 L158.8 557.78 L159.3 557.35 L159.8 557.81 L160.3 557.34 L160.8 557.82 L161.3 557.57 L161.8 557.5 L162.3 557.63 L162.8 557.86 L163.3 557.46 L163.8 557.38 L164.3 557.62 L164.8 557.44 L165.3 557.37 L165.8 557.4 L166.3 557.33 L166.8 557.42 L167.3 557.49 L167.8 557.48 L168.3 557.76 L168.8 557.47 L169.3 557.6 L169.8 557.41 L170.3 557.51 L170.8 557.31 L171.3 557.45 L171.8 557.31 L172.3 557.74 L172.8 557.63 L173.3 557.41 L173.8 557.58 L174.3 557.86 L174.8 557.36 L175.3 557.79 L175.8 557.56 L176.3 557.6 L176.8 557.8 L177.3 557.54 L177.8 557.6 L178.3 557.71 L178.8 557.89 L179.3 557.51 L179.8 557.8 L180.3 557.72 L180.8 557.68" fill="none" stroke="#a0a0a0" stroke-width="1.2" stroke-linejoin="round" stroke-linecap="round"/>
<path d="M55.3 555.68 V559.49 M56.2 556.91 V558.62 M57.1 556.85 V561.06 M58 556.21 V558.75 M58.9 556.8 V561.47 M59.8 554.05 V560.78 M60.7 556.11 V559.07 M61.6 556.07 V559.94 M62.5 556.55 V559.88 M63.4 556.18 V561.95 M64.3 553.7 V560.29 M65.2 556.24 V561.96 M66.1 556.02 V559.53 M67 557.1 V559.63 M67.9 555.44 V560.11 M68.8 556.4 V560.12 M69.7 557.08 V559.16 M70.6 556.79 V559.7 M71.5 556.95 V558.19 M72.4 556.04 V559.03 M73.3 555.05 V560.22 M74.2 554.47 V560.73 M75.1 554.59 V561.62" stroke="#a6a6a6" stroke-width="0.9" fill="none"/>
<path d="M66.5 522.7 L66.5 582.7" fill="none" stroke="#b3b3b3" stroke-width="1.5" stroke-linejoin="round" stroke-linecap="round"/>
<path d="M55.3 549.27 L56 549.89 L56.7 551.37 L57.4 550.96 L58.1 551.98 L58.8 551.87 L59.5 550.89 L60.2 551.44 L60.9 551.11 L61.6 550.61 L62.3 550.93 L63 551.66 L63.7 551.7 L64.4 552.8 L65.1 550.29 L65.8 541.19 L66.5 532.2 L67.2 540.62 L67.9 548.56 L68.6 551.42 L69.3 551.33 L70 551.64 L70.7 551.37 L71.4 551.46 L72.1 551.9 L72.8 552.45 L73.5 552.41 L74.2 553.52 L74.9 553.39 L75.6 553.66 L76.3 553.83 L77 554.03 L77.7 553.93 L78.4 553.44 L79.1 554.48 L79.8 554.5 L80.5 554.26 L81.2 554.34 L81.9 554.54 L82.6 553.87 L83.3 554.7 L84 554.14 L84.7 553.95 L85.4 554.21 L86.1 554.79 L86.8 554.19 L87.5 554.86 L88.2 555.17 L88.9 554.61 L89.6 554.53 L90.3 554.69 L91 554.98 L91.7 555.14 L92.4 555.07 L93.1 555.21 L93.8 554.66 L94.5 554.92 L95.2 555.23 L95.9 556 L96.6 555.63 L97.3 556.05 L98 555.4 L98.7 555.41 L99.4 555.52 L100.1 555.79 L100.8 555.52 L101.5 554.93 L102.2 553.41 L102.9 554.51 L103.6 555.21 L104.3 555.51 L105 555.22 L105.7 555.96 L106.4 555.67 L107.1 556.11 L107.8 556.12 L108.5 555.69 L109.2 555.94 L109.9 556.16 L110.6 556.24 L111.3 555.99 L112 555.9 L112.7 555.88 L113.4 556.25 L114.1 555.89 L114.8 556.08 L115.5 555.87 L116.2 556.06 L116.9 556.28 L117.6 555.88 L118.3 556.23 L119 556.08 L119.7 556.28 L120.4 556.19 L121.1 555.96 L121.8 556.3 L122.5 556.1 L123.2 555.87 L123.9 555.87 L124.6 556.12 L125.3 556.1 L126 556.04 L126.7 555.96 L127.4 556.07 L128.1 556.06 L128.8 556.33 L129.5 555.92 L130.2 556.3 L130.9 556.35 L131.6 555.99 L132.3 556.4 L133 556.3 L133.7 556.4 L134.4 556.1 L135.1 556.15 L135.8 556.16 L136.5 556.47 L137.2 556.27 L137.9 556.17 L138.6 556.21 L139.3 556.14 L140 556.03 L140.7 556.06 L141.4 556.43 L142.1 556.16 L142.8 556.49 L143.5 556.16 L144.2 556.17 L144.9 556.3 L145.6 556.15 L146.3 556.24 L147 556.54 L147.7 556.51 L148.4 556.48 L149.1 556.4 L149.8 556.54 L150.5 556.56 L151.2 556.37 L151.9 556.46 L152.6 556.13 L153.3 556.48 L154 556.35 L154.7 556.5 L155.4 556.46 L156.1 556.28 L156.8 556.17 L157.5 556.61 L158.2 556.22 L158.9 556.4 L159.6 556.34 L160.3 556.32 L161 556.55 L161.7 556.68 L162.4 556.32 L163.1 556.53 L163.8 556.36 L164.5 556.49 L165.2 556.41 L165.9 556.31 L166.6 556.31 L167.3 556.34 L168 556.69 L168.7 556.49 L169.4 556.36 L170.1 556.71 L170.8 556.76 L171.5 556.49 L172.2 556.35 L172.9 556.38 L173.6 556.33 L174.3 556.46 L175 556.34 L175.7 556.42 L176.4 556.44 L177.1 556.6 L177.8 556.77 L178.5 556.7 L179.2 556.54 L179.9 556.55 L180.6 556.61" fill="none" stroke="#111" stroke-width="1.5" stroke-linejoin="round" stroke-linecap="round"/>
<path d="M67.8 492.4 V506.5" stroke="#e3141c" stroke-width="1.8" fill="none"/>
<path d="M63.2 505.4 L72.4 505.4 L67.8 514.8 Z" fill="#e3141c"/>
<rect x="293.7" y="521.5" width="1" height="30" fill="#f1f2f6"/>
<path d="M260.9 556.76 L261.4 556.5 L261.9 554.62 L262.4 556.09 L262.9 560.78 L263.4 555.06 L263.9 557.62 L264.4 558.48 L264.9 560.07 L265.4 555.67 L265.9 556.04 L266.4 555.89 L266.9 556.92 L267.4 557.23 L267.9 560.69 L268.4 559.97 L268.9 560.14 L269.4 554.35 L269.9 554.42 L270.4 559.02 L270.9 560.29 L271.4 557.42 L271.9 558.19 L272.4 554.2 L272.9 556.86 L273.4 560.5 L273.9 559.81 L274.4 560.02 L274.9 560.81 L275.4 555.89 L275.9 554.94 L276.4 555.25 L276.9 557.75 L277.4 558.84 L277.9 560.6 L278.4 559.11 L278.9 558.6 L279.4 559.4 L279.9 557.31 L280.4 557.95 L280.9 556.77 L281.4 558.11 L281.9 557.12 L282.4 558.36 L282.9 557.86 L283.4 557.25 L283.9 556.93 L284.4 557.15 L284.9 557.85 L285.4 557.96 L285.9 556.9 L286.4 556.83 L286.9 557.64 L287.4 557.75 L287.9 557.4 L288.4 557.1 L288.9 557.78 L289.4 556.72 L289.9 557.24 L290.4 557.53 L290.9 558.43 L291.4 557.86 L291.9 558.29 L292.4 557.56 L292.9 557.12 L293.4 557.14 L293.9 558.43 L294.4 557.97 L294.9 557.25 L295.4 556.74 L295.9 557.6 L296.4 557.91 L296.9 557.46 L297.4 557.16 L297.9 557.9 L298.4 558.37 L298.9 557.11 L299.4 556.76 L299.9 557.31 L300.4 557.46 L300.9 557.93 L301.4 557.06 L301.9 558.13 L302.4 558.03 L302.9 557.61 L303.4 557.07 L303.9 558.45 L304.4 557.26 L304.9 558.18 L305.4 557.12 L305.9 557.43 L306.4 557.76 L306.9 557.48 L307.4 557.87 L307.9 557.6 L308.4 557.41 L308.9 557.43 L309.4 557.55 L309.9 557.7 L310.4 557.87 L310.9 557.39 L311.4 557.54 L311.9 557.43 L312.4 557.88 L312.9 557.39 L313.4 557.33 L313.9 557.34 L314.4 557.54 L314.9 557.84 L315.4 557.83 L315.9 557.74 L316.4 557.9 L316.9 557.86 L317.4 557.5 L317.9 557.41 L318.4 557.86 L318.9 557.75 L319.4 557.32 L319.9 557.7 L320.4 557.53 L320.9 557.52 L321.4 557.5 L321.9 557.4 L322.4 557.3 L322.9 557.47 L323.4 557.51 L323.9 557.87 L324.4 557.37 L324.9 557.88 L325.4 557.42 L325.9 557.51 L326.4 557.79 L326.9 557.79 L327.4 557.56 L327.9 557.33 L328.4 557.58 L328.9 557.52 L329.4 557.85 L329.9 557.42 L330.4 557.52 L330.9 557.84 L331.4 557.32 L331.9 557.55 L332.4 557.79 L332.9 557.76 L333.4 557.32 L333.9 557.32 L334.4 557.34 L334.9 557.85 L335.4 557.45 L335.9 557.75 L336.4 557.84 L336.9 557.5 L337.4 557.46 L337.9 557.87 L338.4 557.67 L338.9 557.46 L339.4 557.73 L339.9 557.49 L340.4 557.47 L340.9 557.3 L341.4 557.75 L341.9 557.85 L342.4 557.68 L342.9 557.87 L343.4 557.31 L343.9 557.44 L344.4 557.59 L344.9 557.87 L345.4 557.87 L345.9 557.53 L346.4 557.45 L346.9 557.56 L347.4 557.6 L347.9 557.86 L348.4 557.41 L348.9 557.78 L349.4 557.74 L349.9 557.79 L350.4 557.76 L350.9 557.66 L351.4 557.5 L351.9 557.49 L352.4 557.52 L352.9 557.77 L353.4 557.35 L353.9 557.42 L354.4 557.75 L354.9 557.45 L355.4 557.34 L355.9 557.32 L356.4 557.63 L356.9 557.5 L357.4 557.89 L357.9 557.83 L358.4 557.89 L358.9 557.46 L359.4 557.35 L359.9 557.36 L360.4 557.6 L360.9 557.73 L361.4 557.57 L361.9 557.44 L362.4 557.55 L362.9 557.67 L363.4 557.7 L363.9 557.75 L364.4 557.81 L364.9 557.7 L365.4 557.37 L365.9 557.8 L366.4 557.48 L366.9 557.64 L367.4 557.52 L367.9 557.74 L368.4 557.42 L368.9 557.45 L369.4 557.45 L369.9 557.39 L370.4 557.83 L370.9 557.65 L371.4 557.5 L371.9 557.54 L372.4 557.9 L372.9 557.6 L373.4 557.44 L373.9 557.79 L374.4 557.69 L374.9 557.89 L375.4 557.36 L375.9 557.58 L376.4 557.79 L376.9 557.8 L377.4 557.85 L377.9 557.32 L378.4 557.48 L378.9 557.37 L379.4 557.41 L379.9 557.88 L380.4 557.65 L380.9 557.86 L381.4 557.52 L381.9 557.82 L382.4 557.57 L382.9 557.46 L383.4 557.77 L383.9 557.87 L384.4 557.36 L384.9 557.66 L385.4 557.67 L385.9 557.43" fill="none" stroke="#a0a0a0" stroke-width="1.2" stroke-linejoin="round" stroke-linecap="round"/>
<path d="M260.9 555.81 V558.67 M261.8 556.39 V559.12 M262.7 555 V560.71 M263.6 556.39 V558.15 M264.5 555.95 V560.81 M265.4 556.45 V559.35 M266.3 556.39 V561.28 M267.2 555.18 V558.35 M268.1 556.75 V559.68 M269 555.17 V560.66 M269.9 556.78 V558.75 M270.8 554.67 V559.74 M271.7 556.11 V559.33 M272.6 553.76 V559.35 M273.5 555.12 V559.53 M274.4 555.64 V561.56 M275.3 553.61 V559.56 M276.2 556.41 V561.01 M277.1 556.39 V558.12 M278 553.94 V559.8 M278.9 554.23 V559.72 M279.8 554.01 V559.94 M280.7 556.53 V558.16" stroke="#a6a6a6" stroke-width="0.9" fill="none"/>
<path d="M272.1 523.9 L272.1 583.3" fill="none" stroke="#b3b3b3" stroke-width="1.5" stroke-linejoin="round" stroke-linecap="round"/>
<path d="M260.9 549.46 L261.6 549.84 L262.3 550.43 L263 549.7 L263.7 550.57 L264.4 550.42 L265.1 550.52 L265.8 549.78 L266.5 549.73 L267.2 550.23 L267.9 551.32 L268.6 551.07 L269.3 552.11 L270 552.73 L270.7 549.71 L271.4 538.6 L272.1 528.7 L272.8 538.79 L273.5 549.02 L274.2 551.54 L274.9 551.33 L275.6 552.7 L276.3 552.39 L277 553.35 L277.7 553.31 L278.4 553.83 L279.1 553.29 L279.8 554.25 L280.5 553.78 L281.2 554.19 L281.9 554.86 L282.6 554.97 L283.3 554.28 L284 554.39 L284.7 554.68 L285.4 554.84 L286.1 554.69 L286.8 554.39 L287.5 554.55 L288.2 555.11 L288.9 555.31 L289.6 554.27 L290.3 554.88 L291 555.1 L291.7 554.23 L292.4 555.18 L293.1 554.3 L293.8 554.87 L294.5 554.82 L295.2 554.92 L295.9 554.55 L296.6 554.7 L297.3 554.99 L298 554.89 L298.7 555.28 L299.4 555.2 L300.1 555.36 L300.8 555.06 L301.5 555.96 L302.2 555.93 L302.9 555.69 L303.6 556.35 L304.3 556.3 L305 555.8 L305.7 555.3 L306.4 555.37 L307.1 554.4 L307.8 553.99 L308.5 554.84 L309.2 554.98 L309.9 555.58 L310.6 555.76 L311.3 555.57 L312 555.92 L312.7 555.68 L313.4 556.04 L314.1 556.09 L314.8 556 L315.5 555.78 L316.2 556.01 L316.9 555.95 L317.6 556.25 L318.3 555.85 L319 556.21 L319.7 556.29 L320.4 556.16 L321.1 556.21 L321.8 555.9 L322.5 556.3 L323.2 556.06 L323.9 556.3 L324.6 556.29 L325.3 555.92 L326 556.24 L326.7 556.31 L327.4 555.89 L328.1 556.04 L328.8 556.24 L329.5 555.95 L330.2 556.33 L330.9 556.02 L331.6 556.3 L332.3 555.97 L333 556.15 L333.7 556.37 L334.4 556.02 L335.1 556.05 L335.8 556.18 L336.5 556.09 L337.2 555.96 L337.9 556.03 L338.6 556.03 L339.3 556.42 L340 556.3 L340.7 556.41 L341.4 556.06 L342.1 556.37 L342.8 556.04 L343.5 556.26 L344.2 556.31 L344.9 556.18 L345.6 556.44 L346.3 556.29 L347 556.31 L347.7 556.47 L348.4 556.08 L349.1 556.53 L349.8 556.36 L350.5 556.25 L351.2 556.45 L351.9 556.19 L352.6 556.56 L353.3 556.36 L354 556.26 L354.7 556.47 L355.4 556.31 L356.1 556.18 L356.8 556.47 L357.5 556.13 L358.2 556.52 L358.9 556.25 L359.6 556.44 L360.3 556.62 L361 556.43 L361.7 556.47 L362.4 556.31 L363.1 556.16 L363.8 556.18 L364.5 556.24 L365.2 556.48 L365.9 556.39 L366.6 556.44 L367.3 556.64 L368 556.26 L368.7 556.32 L369.4 556.53 L370.1 556.22 L370.8 556.22 L371.5 556.4 L372.2 556.28 L372.9 556.42 L373.6 556.36 L374.3 556.54 L375 556.55 L375.7 556.36 L376.4 556.58 L377.1 556.51 L377.8 556.35 L378.5 556.75 L379.2 556.41 L379.9 556.37 L380.6 556.35 L381.3 556.63 L382 556.75 L382.7 556.71 L383.4 556.53 L384.1 556.46 L384.8 556.34 L385.5 556.67 L386.2 556.63" fill="none" stroke="#111" stroke-width="1.5" stroke-linejoin="round" stroke-linecap="round"/>
<path d="M271.9 492.4 V506.5" stroke="#e3141c" stroke-width="1.8" fill="none"/>
<path d="M267.3 505.4 L276.5 505.4 L271.9 514.8 Z" fill="#e3141c"/>
<rect x="449.4" y="534.8" width="8.0" height="43.8" fill="#e8e9eb"/>
<rect x="477.2" y="534.8" width="5.9" height="43.8" fill="#e8e9eb"/>
<path d="M455 578.2 L598.3 577.8" fill="none" stroke="#3a3a3a" stroke-width="1.3" stroke-linejoin="round" stroke-linecap="round"/>
<path d="M445.3 573.3 L446.1 575.33 L446.9 577.23 L447.7 578.5 L448.5 578 L449.3 576.38 L450.1 574.42 L450.9 573.32 L451.7 573.87 L452.5 574.9 L453.3 575.94 L454.1 576.75 L454.9 577.29 L455.7 577.66 L456.5 577.66 L457.3 578.29 L458.1 578.09 L458.9 578.97 L459.7 578.73 L460.5 578.03 L461.3 579.12 L462.1 577.8 L462.9 578.61 L463.7 578.44 L464.5 578.2 L465.3 577.94 L466.1 579.12 L466.9 577.92 L467.7 578.81 L468.5 579.46 L469.3 578.2 L470.1 578.32 L470.9 579 L471.7 578.86 L472.5 579.1 L473.3 579.4 L474.1 578.4 L474.9 578.63 L475.7 578.63 L476.5 578.25 L477.3 579.61 L478.1 579.46 L478.9 579.38 L479.7 578.27 L480.5 579.63 L481.3 579.49 L482.1 579.08 L482.9 579.55 L483.7 579.11 L484.5 578.79 L485.3 578.65 L486.1 578.9 L486.9 578.68 L487.7 579.24 L488.5 579.99 L489.3 580 L490.1 580.3 L490.9 580.14 L491.7 579.48 L492.5 579.99 L493.3 579.83 L494.1 580.42 L494.9 580.03 L495.7 579.64 L496.5 580.27 L497.3 580.82 L498.1 579.63 L498.9 580.71 L499.7 579.34 L500.5 579.74 L501.3 579.72 L502.1 580.54 L502.9 580.88 L503.7 580.57 L504.5 579.91 L505.3 580.81 L506.1 579.93 L506.9 579.8 L507.7 580.87 L508.5 580.43 L509.3 580.54 L510.1 580.5 L510.9 581.01 L511.7 580.2 L512.5 580.79 L513.3 580.57 L514.1 580.83 L514.9 580.16 L515.7 580.63 L516.5 580.39 L517.3 579.97 L518.1 579.82 L518.9 580.48 L519.7 579.61 L520.5 580.66 L521.3 579.97 L522.1 579.87 L522.9 579.94 L523.7 580.69 L524.5 580.16 L525.3 579.98 L526.1 579.88 L526.9 579.9 L527.7 580.49 L528.5 580.44 L529.3 580.5 L530.1 580.53 L530.9 579.93 L531.7 580.41 L532.5 580.21 L533.3 580.62 L534.1 580.62 L534.9 580.69 L535.7 579.95 L536.5 580.67 L537.3 580.71 L538.1 580.74 L538.9 579.99 L539.7 580.08 L540.5 579.99 L541.3 579.93 L542.1 580.66 L542.9 580.63 L543.7 580.47 L544.5 580.64 L545.3 580.47 L546.1 580.16 L546.9 579.99 L547.7 579.99 L548.5 580.59 L549.3 580.09 L550.1 580.2 L550.9 580.29 L551.7 579.93 L552.5 580.14 L553.3 580.17 L554.1 580.56 L554.9 580.25 L555.7 580.2 L556.5 580.78 L557.3 580.37 L558.1 580.68 L558.9 580.47 L559.7 579.95 L560.5 580.29 L561.3 580.31 L562.1 580.62 L562.9 580.23 L563.7 580.56 L564.5 580.41 L565.3 580.12 L566.1 580.7 L566.9 580.01 L567.7 580.66 L568.5 580.08 L569.3 579.93 L570.1 580.11 L570.9 580.61 L571.7 580.81 L572.5 579.93 L573.3 580.37 L574.1 580.37 L574.9 580.65 L575.7 580.1 L576.5 580.38 L577.3 580.24 L578.1 580.68 L578.9 580.17 L579.7 580.78 L580.5 580.19 L581.3 580.13 L582.1 580.56 L582.9 580.38 L583.7 580.03 L584.5 580.51 L585.3 580.01 L586.1 580.65 L586.9 580.56 L587.7 580.65 L588.5 580.5 L589.3 580.26 L590.1 580.3 L590.9 580.3 L591.7 580.74 L592.5 580.02 L593.3 580.74 L594.1 579.97 L594.9 580.13 L595.7 580.18 L596.5 580.76 L597.3 580.4" fill="none" stroke="#1e1e1e" stroke-width="1.4" stroke-linejoin="round" stroke-linecap="round"/>
<path d="M454.8 577.28 L455 576.16 L455.2 574.39 L455.4 571.78 L455.6 568.24 L455.8 563.84 L456 558.88 L456.2 553.9 L456.4 549.58 L456.6 546.64 L456.8 545.6 L457 546.64 L457.2 549.58 L457.4 553.9 L457.6 558.88 L457.8 563.84 L458 568.24 L458.2 571.78 L458.4 574.39 L458.6 576.16 L458.8 577.28 Z" fill="#6e6e6e" stroke="#2e2e2e" stroke-width="1.0" stroke-linejoin="round"/>
<path d="M478.1 577.21 L478.3 576.36 L478.5 575.12 L478.7 573.4 L478.9 571.15 L479.1 568.34 L479.3 565.03 L479.5 561.34 L479.7 557.52 L479.9 553.87 L480.1 550.71 L480.3 548.39 L480.5 547.16 L480.7 547.16 L480.9 548.39 L481.1 550.71 L481.3 553.87 L481.5 557.52 L481.7 561.34 L481.9 565.03 L482.1 568.34 L482.3 571.15 L482.5 573.4 L482.7 575.12 L482.9 576.36 L483.1 577.21 L483.3 577.77 Z" fill="#6e6e6e" stroke="#2e2e2e" stroke-width="1.0" stroke-linejoin="round"/>
</svg>
</body></html>
